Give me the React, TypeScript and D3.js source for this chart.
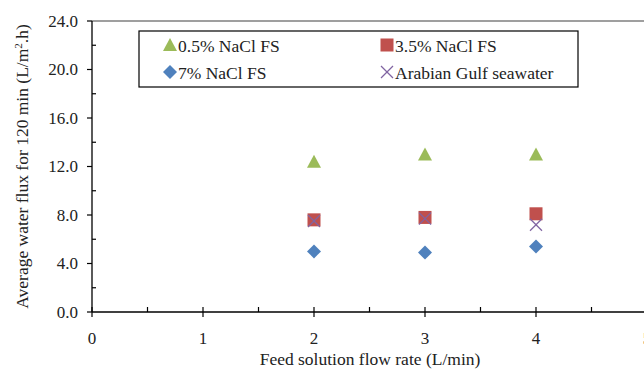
import React from 'react';
import * as d3 from 'd3';

const flowRates = [2, 3, 4];
const nacl05 = [12.4, 13.0, 13.0];
const nacl35 = [7.6, 7.8, 8.1];
const nacl7 = [5.0, 4.9, 5.4];
const gulf = [7.5, 7.7, 7.2];
const yTicks = [0, 4, 8, 12, 16, 20, 24];
const xTicks = [0, 1, 2, 3, 4, 5];

const GREEN = '#9BBB59';
const RED = '#C0504D';
const BLUE = '#4F81BD';
const PURPLE = '#8064A2';

const FONT = "'Liberation Serif', 'Times New Roman', serif";

type Kind = 'tri' | 'sq' | 'dia' | 'x';

const Marker: React.FC<{ kind: Kind; x: number; y: number }> = ({ kind, x, y }) => {
  if (kind === 'tri') {
    return <path d={`M${x},${y - 7} L${x + 7},${y + 6} L${x - 7},${y + 6}Z`} fill={GREEN} />;
  }
  if (kind === 'sq') {
    return <rect x={x - 6.5} y={y - 6.5} width={13} height={13} fill={RED} />;
  }
  if (kind === 'dia') {
    return <path d={`M${x},${y - 7} L${x + 7},${y} L${x},${y + 7} L${x - 7},${y}Z`} fill={BLUE} />;
  }
  return (
    <g stroke={PURPLE} strokeWidth={1.3}>
      <line x1={x - 6} y1={y - 6} x2={x + 6} y2={y + 6} />
      <line x1={x - 6} y1={y + 6} x2={x + 6} y2={y - 6} />
    </g>
  );
};

const App: React.FC = () => {
  const width = 644;
  const height = 374;
  const x = d3.scaleLinear().domain([0, 5]).range([92, 647]);
  const y = d3.scaleLinear().domain([0, 24]).range([312, 21]);
  const txt = { fontFamily: FONT };

  const series: { name: string; kind: Kind; values: number[] }[] = [
    { name: '0.5% NaCl FS', kind: 'tri', values: nacl05 },
    { name: '3.5% NaCl FS', kind: 'sq', values: nacl35 },
    { name: '7% NaCl FS', kind: 'dia', values: nacl7 },
    { name: 'Arabian Gulf seawater', kind: 'x', values: gulf },
  ];
  // draw order so that the crosses sit on top of the squares
  const drawOrder = [0, 2, 1, 3];

  const minorY = d3.range(2, 24, 4);
  const minorX = d3.range(0.5, 5, 1);

  const legendPos = [
    { mx: 170, ty: 46 },
    { mx: 387, ty: 46 },
    { mx: 170, ty: 73 },
    { mx: 387, ty: 73 },
  ];

  return (
    <svg width={width} height={height} style={{ position: 'absolute', left: 0, top: 0, background: '#fff' }}>
      {/* frame top */}
      <line x1={x(0)} x2={width} y1={y(24)} y2={y(24)} stroke="#404040" strokeWidth={1.2} />
      {/* y axis */}
      <line x1={x(0)} x2={x(0)} y1={y(0)} y2={y(24)} stroke="#000" strokeWidth={1.3} />
      {yTicks.map(t => (
        <g key={`yt-${t}`}>
          <line x1={x(0) - 5} x2={x(0)} y1={y(t)} y2={y(t)} stroke="#000" strokeWidth={1.2} />
          <text x={78} y={y(t)} dy="0.35em" textAnchor="end" fontSize={17} fill="#222" style={txt}>
            {t.toFixed(1)}
          </text>
        </g>
      ))}
      {minorY.map(t => (
        <line key={`ym-${t}`} x1={x(0)} x2={x(0) + 4} y1={y(t)} y2={y(t)} stroke="#000" strokeWidth={1.2} />
      ))}
      {/* x axis */}
      <line x1={x(0)} x2={width} y1={y(0)} y2={y(0)} stroke="#000" strokeWidth={1.3} />
      {xTicks.map(t => (
        <g key={`xt-${t}`}>
          <line x1={x(t)} x2={x(t)} y1={y(0) - 5} y2={y(0) + 5} stroke="#000" strokeWidth={1.2} />
          <text x={x(t)} y={344} textAnchor="middle" fontSize={17} fill="#222" style={txt}>
            {t}
          </text>
        </g>
      ))}
      {minorX.map(t => (
        <line key={`xm-${t}`} x1={x(t)} x2={x(t)} y1={y(0) - 5} y2={y(0)} stroke="#000" strokeWidth={1.2} />
      ))}
      {/* axis titles */}
      <text x={370} y={365} textAnchor="middle" fontSize={17.5} fill="#222" style={txt}>
        Feed solution flow rate (L/min)
      </text>
      <text transform={`translate(28, ${y(12)}) rotate(-90)`} textAnchor="middle" fontSize={17.5} fill="#222" style={txt}>
        Average water flux for 120 min (L/m<tspan fontSize={11} dy={-6}>2</tspan>
        <tspan dy={6}>.h)</tspan>
      </text>
      {/* points */}
      {drawOrder.map(i => (
        <g key={series[i].name}>
          {series[i].values.map((v, j) => (
            <Marker key={j} kind={series[i].kind} x={x(flowRates[j])} y={y(v)} />
          ))}
        </g>
      ))}
      {/* legend */}
      <rect x={139} y={31} width={439} height={56} fill="#fff" stroke="#000" strokeWidth={1.2} />
      {series.map((s, i) => (
        <g key={`lg-${s.name}`}>
          <Marker kind={s.kind} x={legendPos[i].mx} y={legendPos[i].ty - 1} />
          <text x={legendPos[i].mx + 8} y={legendPos[i].ty} dy="0.35em" fontSize={17.5} fill="#222" style={txt}>
            {s.name}
          </text>
        </g>
      ))}
    </svg>
  );
};

export default App;
